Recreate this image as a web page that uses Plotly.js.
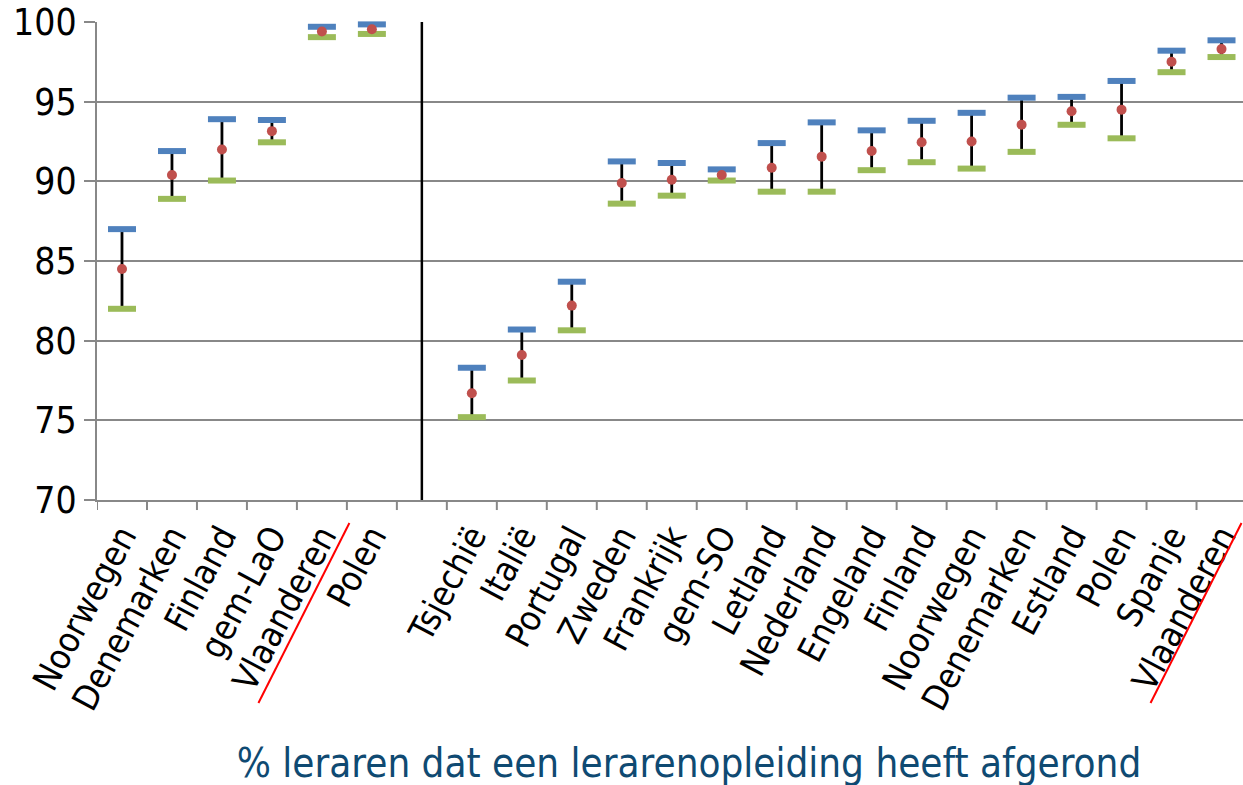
<!DOCTYPE html>
<html>
<head>
<meta charset="utf-8">
<script src="https://cdn.plot.ly/plotly-3.0.1.min.js"></script>
<style>
  html, body { margin: 0; padding: 0; background: #ffffff; }
  #chart { width: 1243px; height: 785px; }
</style>
</head>
<body>
<div id="chart"></div>
<script>
// Categories (index 6 is an empty separator slot)
const categories = ['Noorwegen','Denemarken','Finland','gem-LaO','Vlaanderen','Polen','',
  'Tsjechië','Italië','Portugal','Zweden','Frankrijk','gem-SO','Letland','Nederland',
  'Engeland','Finland','Noorwegen','Denemarken','Estland','Polen','Spanje','Vlaanderen'];

const highValues = [87.0, 91.9, 93.9, 93.85, 99.7, 99.85, null,
  78.3, 80.7, 83.7, 91.25, 91.15, 90.75, 92.4, 93.7, 93.2, 93.8, 94.3, 95.25, 95.3, 96.3, 98.2, 98.85];
const meanValues = [84.5, 90.4, 92.0, 93.15, 99.4, 99.55, null,
  76.7, 79.1, 82.2, 89.9, 90.1, 90.4, 90.85, 91.55, 91.9, 92.45, 92.5, 93.55, 94.4, 94.5, 97.5, 98.3];
const lowValues = [82.0, 88.9, 90.05, 92.45, 99.05, 99.25, null,
  75.2, 77.5, 80.65, 88.6, 89.1, 90.05, 89.35, 89.35, 90.7, 91.2, 90.8, 91.85, 93.55, 92.7, 96.85, 97.8];

const yTicks = [70, 75, 80, 85, 90, 95, 100];
const chartTitle = '% leraren dat een lerarenopleiding heeft afgerond';
const separatorIndex = 6;
const highlighted = [4, 22]; // Vlaanderen positions

const xIdx = categories.map((c, i) => i);
const errPlus = highValues.map((h, i) => (h == null ? null : h - meanValues[i]));
const errMinus = lowValues.map((l, i) => (l == null ? null : meanValues[i] - l));

const fam = 'DejaVu Sans Condensed, DejaVu Sans, sans-serif';

const traces = [
  { // vertical range lines
    type: 'scatter', mode: 'markers', x: xIdx, y: meanValues,
    marker: { size: 1, opacity: 0 },
    error_y: { type: 'data', symmetric: false, array: errPlus, arrayminus: errMinus,
               width: 0, thickness: 2.8, color: '#000000' },
    hoverinfo: 'skip', showlegend: false, cliponaxis: false
  },
  { // high
    type: 'scatter', mode: 'markers', x: xIdx, y: highValues, name: 'hoog',
    marker: { symbol: 'line-ew', size: 20, line: { width: 6, color: '#4F81BD' } },
    showlegend: false, cliponaxis: false
  },
  { // low
    type: 'scatter', mode: 'markers', x: xIdx, y: lowValues, name: 'laag',
    marker: { symbol: 'line-ew', size: 20, line: { width: 6, color: '#9BBB59' } },
    showlegend: false, cliponaxis: false
  },
  { // mean
    type: 'scatter', mode: 'markers', x: xIdx, y: meanValues, name: 'gemiddeld',
    marker: { symbol: 'circle', size: 10, color: '#C0504D' },
    showlegend: false, cliponaxis: false
  }
];

const shapes = [];
// boundary tick marks between categories
for (let i = 0; i <= categories.length; i++) {
  shapes.push({ type: 'line', xref: 'x', yref: 'paper', x0: i - 0.5, x1: i - 0.5,
    y0: 0, y1: -0.021, line: { color: '#888888', width: 2 } });
}
// separator line
shapes.push({ type: 'line', xref: 'x', yref: 'paper', x0: separatorIndex, x1: separatorIndex,
  y0: 0, y1: 1, line: { color: '#000000', width: 2.5 } });
// red slanted underline for Vlaanderen labels
shapes.push({ type: 'line', xref: 'x', yref: 'paper', x0: highlighted[0] - 1.27, x1: highlighted[0] + 0.55,
  y0: -0.4247, y1: -0.048, line: { color: '#FF0000', width: 2 } });
shapes.push({ type: 'line', xref: 'x', yref: 'paper', x0: highlighted[1] - 1.42, x1: highlighted[1] + 0.4,
  y0: -0.4247, y1: -0.048, line: { color: '#FF0000', width: 2 } });

const layout = {
  width: 1243, height: 785,
  margin: { l: 97, r: 0, t: 22, b: 285, pad: 0 },
  paper_bgcolor: '#ffffff', plot_bgcolor: '#ffffff',
  showlegend: false,
  title: { text: chartTitle, x: 689 / 1243, xref: 'container', xanchor: 'center',
           y: 0.028, yref: 'container', yanchor: 'middle',
           font: { family: fam, size: 40, color: '#0F4A72' } },
  xaxis: {
    range: [-0.5, 22.43], tickmode: 'array', tickvals: xIdx, ticktext: categories,
    tickangle: -62, ticks: '', showgrid: false, zeroline: false,
    showline: true, linecolor: '#888888', linewidth: 2,
    ticklabeloverflow: 'allow',
    tickfont: { family: fam, size: 35, color: '#000000' }, automargin: false
  },
  yaxis: {
    range: [70, 100], tickmode: 'array', tickvals: yTicks,
    ticks: 'outside', ticklen: 11, tickwidth: 2, tickcolor: '#888888',
    showgrid: true, gridcolor: '#888888', gridwidth: 2,
    zeroline: false, showline: true, linecolor: '#888888', linewidth: 2,
    ticklabeloverflow: 'allow',
    tickfont: { family: fam, size: 37, color: '#000000' }, automargin: false
  },
  shapes: shapes
};

Plotly.newPlot('chart', traces, layout, { displayModeBar: false, staticPlot: true });
</script>
</body>
</html>
